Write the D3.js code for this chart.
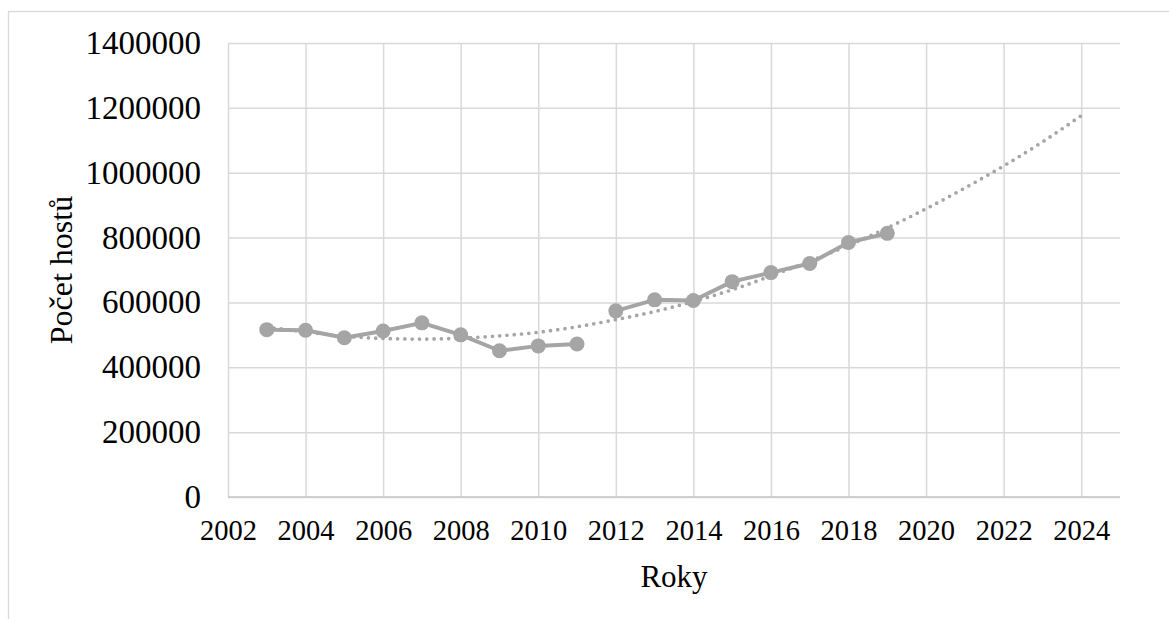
<!DOCTYPE html>
<html>
<head>
<meta charset="utf-8">
<script src="https://cdn.jsdelivr.net/npm/d3@7"></script>
<style>
    body { margin: 0; background: #fff; }
    svg { display: block; }
</style>
</head>
<body>
<div id="wrapper"></div>
<script>
// data
const years = [2003, 2004, 2005, 2006, 2007, 2008, 2009, 2010, 2011,
    2012, 2013, 2014, 2015, 2016, 2017, 2018, 2019]
const guests = [516000, 514000, 491000, 512000, 537000, 500000, 451000, 466000, 472000,
    574000, 608000, 606000, 664000, 692000, 720000, 785000, 813000]
const gapAfter = 2011

// polynomial trend line (2003 - 2024)
const trendYears = [2003, 2004, 2005, 2006, 2007, 2008, 2009, 2010, 2011, 2012, 2013,
    2014, 2015, 2016, 2017, 2018, 2019, 2020, 2021, 2022, 2023, 2024]
const trendValues = [524000, 509000, 496000, 489000, 487000, 490000, 497000, 508000, 525000, 547000, 572000,
    603000, 639000, 682000, 727000, 776000, 830000, 889000, 953000, 1021000, 1095000, 1176000]

const xTicks = [2002, 2004, 2006, 2008, 2010, 2012, 2014, 2016, 2018, 2020, 2022, 2024]
const yTicks = [0, 200000, 400000, 600000, 800000, 1000000, 1200000, 1400000]
const xTitle = 'Roky'
const yTitle = 'Počet hostů'

function drawChart() {
    const rows = years.map((y, i) => ({ year: y, value: guests[i] }))
    const trend = trendYears.map((y, i) => ({ year: y, value: trendValues[i] }))
    const xAccessor = d => d.year
    const yAccessor = d => d.value

    // dimensions
    const dms = {
        width: 1169,
        height: 619,
        margins: { top: 43, right: 49, bottom: 122, left: 228 }
    }
    dms.boundedWidth = dms.width - dms.margins.left - dms.margins.right
    dms.boundedHeight = dms.height - dms.margins.top - dms.margins.bottom

    const grey = '#A5A5A5'
    const gridColor = '#D9D9D9'
    const font = "'Liberation Serif', 'Times New Roman', serif"

    const wrapper = d3.select('#wrapper')
        .append('svg')
            .attr('width', dms.width)
            .attr('height', dms.height)

    // chart frame
    wrapper.append('rect')
        .attr('x', 8.5)
        .attr('y', 11.5)
        .attr('width', dms.width + 20)
        .attr('height', dms.height + 20)
        .attr('fill', 'none')
        .attr('stroke', gridColor)
        .attr('stroke-width', 1.3)

    const bounds = wrapper.append('g')
        .attr('transform', `translate(${dms.margins.left},${dms.margins.top})`)

    // scales
    const xScale = d3.scaleLinear()
        .domain([2002, 2025])
        .range([0, dms.boundedWidth])

    const yScale = d3.scaleLinear()
        .domain([0, 1400000])
        .range([dms.boundedHeight, 0])

    // gridlines
    const yGrid = bounds.append('g')
        .call(d3.axisLeft(yScale).tickValues(yTicks).tickSize(-dms.boundedWidth).tickFormat(''))
    yGrid.select('.domain').remove()
    yGrid.selectAll('.tick line').attr('stroke', gridColor).attr('stroke-width', 1.5)

    const xGrid = bounds.append('g')
        .attr('transform', `translate(0,${dms.boundedHeight})`)
        .call(d3.axisBottom(xScale).tickValues(xTicks).tickSize(-dms.boundedHeight).tickFormat(''))
    xGrid.select('.domain').remove()
    xGrid.selectAll('.tick line').attr('stroke', gridColor).attr('stroke-width', 1.5)

    // x axis line
    bounds.append('line')
        .attr('x1', 0)
        .attr('x2', dms.boundedWidth)
        .attr('y1', dms.boundedHeight)
        .attr('y2', dms.boundedHeight)
        .attr('stroke', '#C6C6C6')
        .attr('stroke-width', 1.5)

    // tick labels
    const yAxis = bounds.append('g')
        .call(d3.axisLeft(yScale).tickValues(yTicks).tickSize(0).tickPadding(27).tickFormat(d3.format('d')))
    yAxis.select('.domain').remove()
    yAxis.selectAll('text')
        .attr('fill', '#000')
        .style('font-family', font)
        .style('font-size', '33px')

    const xAxis = bounds.append('g')
        .attr('transform', `translate(0,${dms.boundedHeight})`)
        .call(d3.axisBottom(xScale).tickValues(xTicks).tickSize(0).tickPadding(23).tickFormat(d3.format('d')))
    xAxis.select('.domain').remove()
    xAxis.selectAll('text')
        .attr('fill', '#000')
        .style('font-family', font)
        .style('font-size', '28.5px')

    // series line, broken after 2011
    const lineGenerator = d3.line()
        .x(d => xScale(xAccessor(d)))
        .y(d => yScale(yAccessor(d)))

    const segments = [
        rows.filter(d => d.year <= gapAfter),
        rows.filter(d => d.year > gapAfter)
    ]

    bounds.selectAll('.series')
        .data(segments)
        .join('path')
            .attr('class', 'series')
            .attr('d', lineGenerator)
            .attr('fill', 'none')
            .attr('stroke', grey)
            .attr('stroke-width', 4)
            .attr('stroke-linejoin', 'round')

    bounds.selectAll('.dot')
        .data(rows)
        .join('circle')
            .attr('class', 'dot')
            .attr('cx', d => xScale(xAccessor(d)))
            .attr('cy', d => yScale(yAccessor(d)))
            .attr('r', 7.5)
            .attr('fill', grey)

    // dotted trend line
    const trendGenerator = d3.line()
        .x(d => xScale(xAccessor(d)))
        .y(d => yScale(yAccessor(d)))
        .curve(d3.curveMonotoneX)

    bounds.append('path')
        .attr('d', trendGenerator(trend))
        .attr('fill', 'none')
        .attr('stroke', grey)
        .attr('stroke-width', 3.7)
        .attr('stroke-linecap', 'round')
        .attr('stroke-dasharray', '0 7.3')

    // axis titles
    wrapper.append('text')
        .attr('x', dms.margins.left + xScale(2013.5))
        .attr('y', 587)
        .attr('text-anchor', 'middle')
        .style('font-family', font)
        .style('font-size', '31px')
        .text(xTitle)

    wrapper.append('text')
        .attr('transform', `translate(72,${dms.margins.top + dms.boundedHeight / 2}) rotate(-90)`)
        .attr('text-anchor', 'middle')
        .style('font-family', font)
        .style('font-size', '32px')
        .text(yTitle)
}

drawChart()
</script>
</body>
</html>
